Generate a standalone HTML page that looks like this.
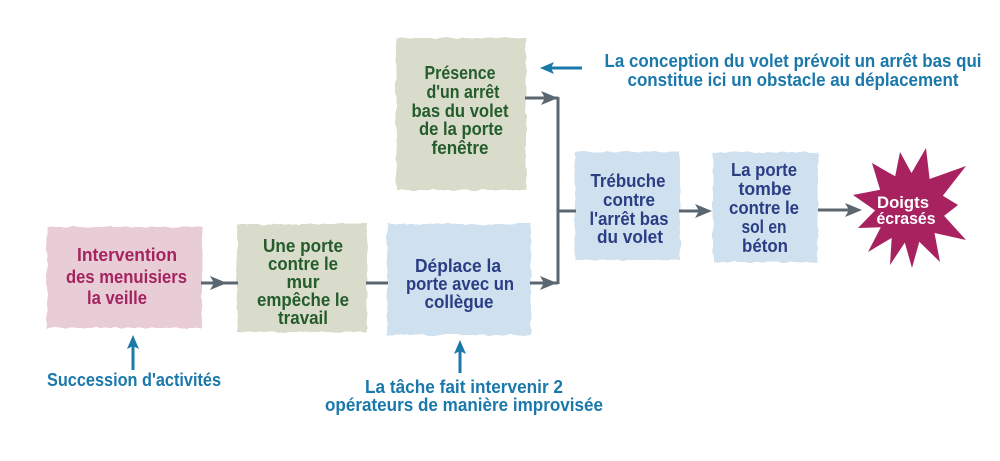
<!DOCTYPE html>
<html><head><meta charset="utf-8"><style>
html,body{margin:0;padding:0;background:#fff;}
svg{display:block;}
text{font-family:"Liberation Sans",Arial,sans-serif;font-weight:bold;}
</style></head><body>
<svg width="1000" height="461" viewBox="0 0 1000 461" xmlns="http://www.w3.org/2000/svg">
<defs>
<filter id="rough" x="-5%" y="-5%" width="110%" height="110%">
<feTurbulence type="fractalNoise" baseFrequency="0.1" numOctaves="2" seed="4" result="n"/>
<feDisplacementMap in="SourceGraphic" in2="n" scale="4" xChannelSelector="R" yChannelSelector="G"/>
</filter>
</defs>
<rect width="1000" height="461" fill="#fff"/>

<!-- boxes -->
<g filter="url(#rough)">
<rect x="47" y="227" width="155" height="101" fill="#e9cdd6"/>
<rect x="237" y="224" width="130" height="108" fill="#d9dcca"/>
<rect x="387" y="224" width="144" height="111" fill="#cfe0ee"/>
<rect x="396" y="38" width="130" height="152" fill="#d9dcca"/>
<rect x="575" y="152" width="105" height="108" fill="#cfe0ee"/>
<rect x="713" y="152" width="105" height="110" fill="#cfe0ee"/>
</g>

<!-- star -->
<polygon fill="#a8225f" points="926,148 929.6,179 966,166 942.8,195.7 958,205 944.1,215.9 966,240 934.5,233 940,262 919.3,241.7 912,268 904.8,242.6 890,265 891.7,237.9 868,252 880.8,227.3 858,228 875.1,210.4 853,195 880.1,189.7 872,163 895.2,176.3 900,152 911.5,173"/>

<!-- gray connectors -->
<g stroke="#5b6770" stroke-width="3" fill="none">
<line x1="201" y1="283" x2="238" y2="283"/>
<line x1="366" y1="283" x2="388" y2="283"/>
<line x1="530" y1="283" x2="558" y2="283"/>
<line x1="525" y1="98" x2="558" y2="98"/>
<line x1="558" y1="97" x2="558" y2="284"/>
<line x1="558" y1="211" x2="576" y2="211"/>
<line x1="679" y1="211" x2="708" y2="211"/>
<line x1="818" y1="210" x2="858" y2="210"/>
</g>
<g fill="#5b6770">
<path d="M227,283 L210,276 L214,283 L210,290 Z"/>
<path d="M557,283 L540,276 L544,283 L540,290 Z"/>
<path d="M558,98 L541,91 L545,98 L541,105 Z"/>
<path d="M712,211 L695,204 L699,211 L695,218 Z"/>
<path d="M862,210 L845,203 L849,210 L845,217 Z"/>
</g>

<!-- blue annotation arrows -->
<g stroke="#1b78ab" stroke-width="3" fill="none">
<line x1="133" y1="346" x2="133" y2="370"/>
<line x1="460" y1="351" x2="460" y2="373"/>
<line x1="551" y1="68" x2="582" y2="68"/>
</g>
<g fill="#1b78ab">
<path d="M133,335 L127,349 L133,346 L139,349 Z"/>
<path d="M460,340 L454,354 L460,351 L466,354 Z"/>
<path d="M540,68 L554,62 L551,68 L554,74 Z"/>
</g>

<!-- pink box text -->
<g fill="#a3245f" font-size="18" text-anchor="middle">
<text x="127" y="261" textLength="100" lengthAdjust="spacingAndGlyphs">Intervention</text>
<text x="126.5" y="283" textLength="121" lengthAdjust="spacingAndGlyphs">des menuisiers</text>
<text x="117" y="304" textLength="60" lengthAdjust="spacingAndGlyphs">la veille</text>
</g>

<!-- green texts -->
<g fill="#245c2c" font-size="18" text-anchor="middle">
<text x="303" y="252" textLength="80" lengthAdjust="spacingAndGlyphs">Une porte</text>
<text x="303" y="270" textLength="70" lengthAdjust="spacingAndGlyphs">contre le</text>
<text x="303" y="288" textLength="33" lengthAdjust="spacingAndGlyphs">mur</text>
<text x="303" y="306" textLength="92" lengthAdjust="spacingAndGlyphs">empêche le</text>
<text x="303" y="324" textLength="50" lengthAdjust="spacingAndGlyphs">travail</text>

<text x="460" y="79" textLength="71" lengthAdjust="spacingAndGlyphs">Présence</text>
<text x="463" y="98" textLength="73" lengthAdjust="spacingAndGlyphs">d'un arrêt</text>
<text x="460" y="117" textLength="97" lengthAdjust="spacingAndGlyphs">bas du volet</text>
<text x="461" y="135" textLength="84" lengthAdjust="spacingAndGlyphs">de la porte</text>
<text x="460" y="154" textLength="57" lengthAdjust="spacingAndGlyphs">fenêtre</text>
</g>

<!-- blue box texts -->
<g fill="#2b3d84" font-size="18" text-anchor="middle">
<text x="458" y="272" textLength="86" lengthAdjust="spacingAndGlyphs">Déplace la</text>
<text x="460" y="290" textLength="108" lengthAdjust="spacingAndGlyphs">porte avec un</text>
<text x="459" y="308" textLength="69" lengthAdjust="spacingAndGlyphs">collègue</text>

<text x="628" y="187" textLength="75" lengthAdjust="spacingAndGlyphs">Trébuche</text>
<text x="629" y="206" textLength="52" lengthAdjust="spacingAndGlyphs">contre</text>
<text x="629" y="225" textLength="79" lengthAdjust="spacingAndGlyphs">l'arrêt bas</text>
<text x="630" y="243" textLength="66" lengthAdjust="spacingAndGlyphs">du volet</text>

<text x="764" y="176" textLength="66" lengthAdjust="spacingAndGlyphs">La porte</text>
<text x="765" y="195" textLength="53" lengthAdjust="spacingAndGlyphs">tombe</text>
<text x="764" y="214" textLength="70" lengthAdjust="spacingAndGlyphs">contre le</text>
<text x="764" y="233" textLength="45" lengthAdjust="spacingAndGlyphs">sol en</text>
<text x="765" y="252" textLength="46" lengthAdjust="spacingAndGlyphs">béton</text>
</g>

<!-- star text -->
<g fill="#ffffff" font-size="17" text-anchor="middle">
<text x="903" y="208" textLength="52" lengthAdjust="spacingAndGlyphs">Doigts</text>
<text x="906" y="224" textLength="59" lengthAdjust="spacingAndGlyphs">écrasés</text>
</g>

<!-- annotations -->
<g fill="#1b78ab" font-size="18" text-anchor="middle">
<text x="134" y="386" textLength="174" lengthAdjust="spacingAndGlyphs">Succession d'activités</text>
<text x="464" y="393" textLength="198" lengthAdjust="spacingAndGlyphs">La tâche fait intervenir 2</text>
<text x="464" y="411" textLength="278" lengthAdjust="spacingAndGlyphs">opérateurs de manière improvisée</text>
<text x="793" y="67" textLength="377" lengthAdjust="spacingAndGlyphs">La conception du volet prévoit un arrêt bas qui</text>
<text x="793" y="86" textLength="331" lengthAdjust="spacingAndGlyphs">constitue ici un obstacle au déplacement</text>
</g>
</svg>
</body></html>
